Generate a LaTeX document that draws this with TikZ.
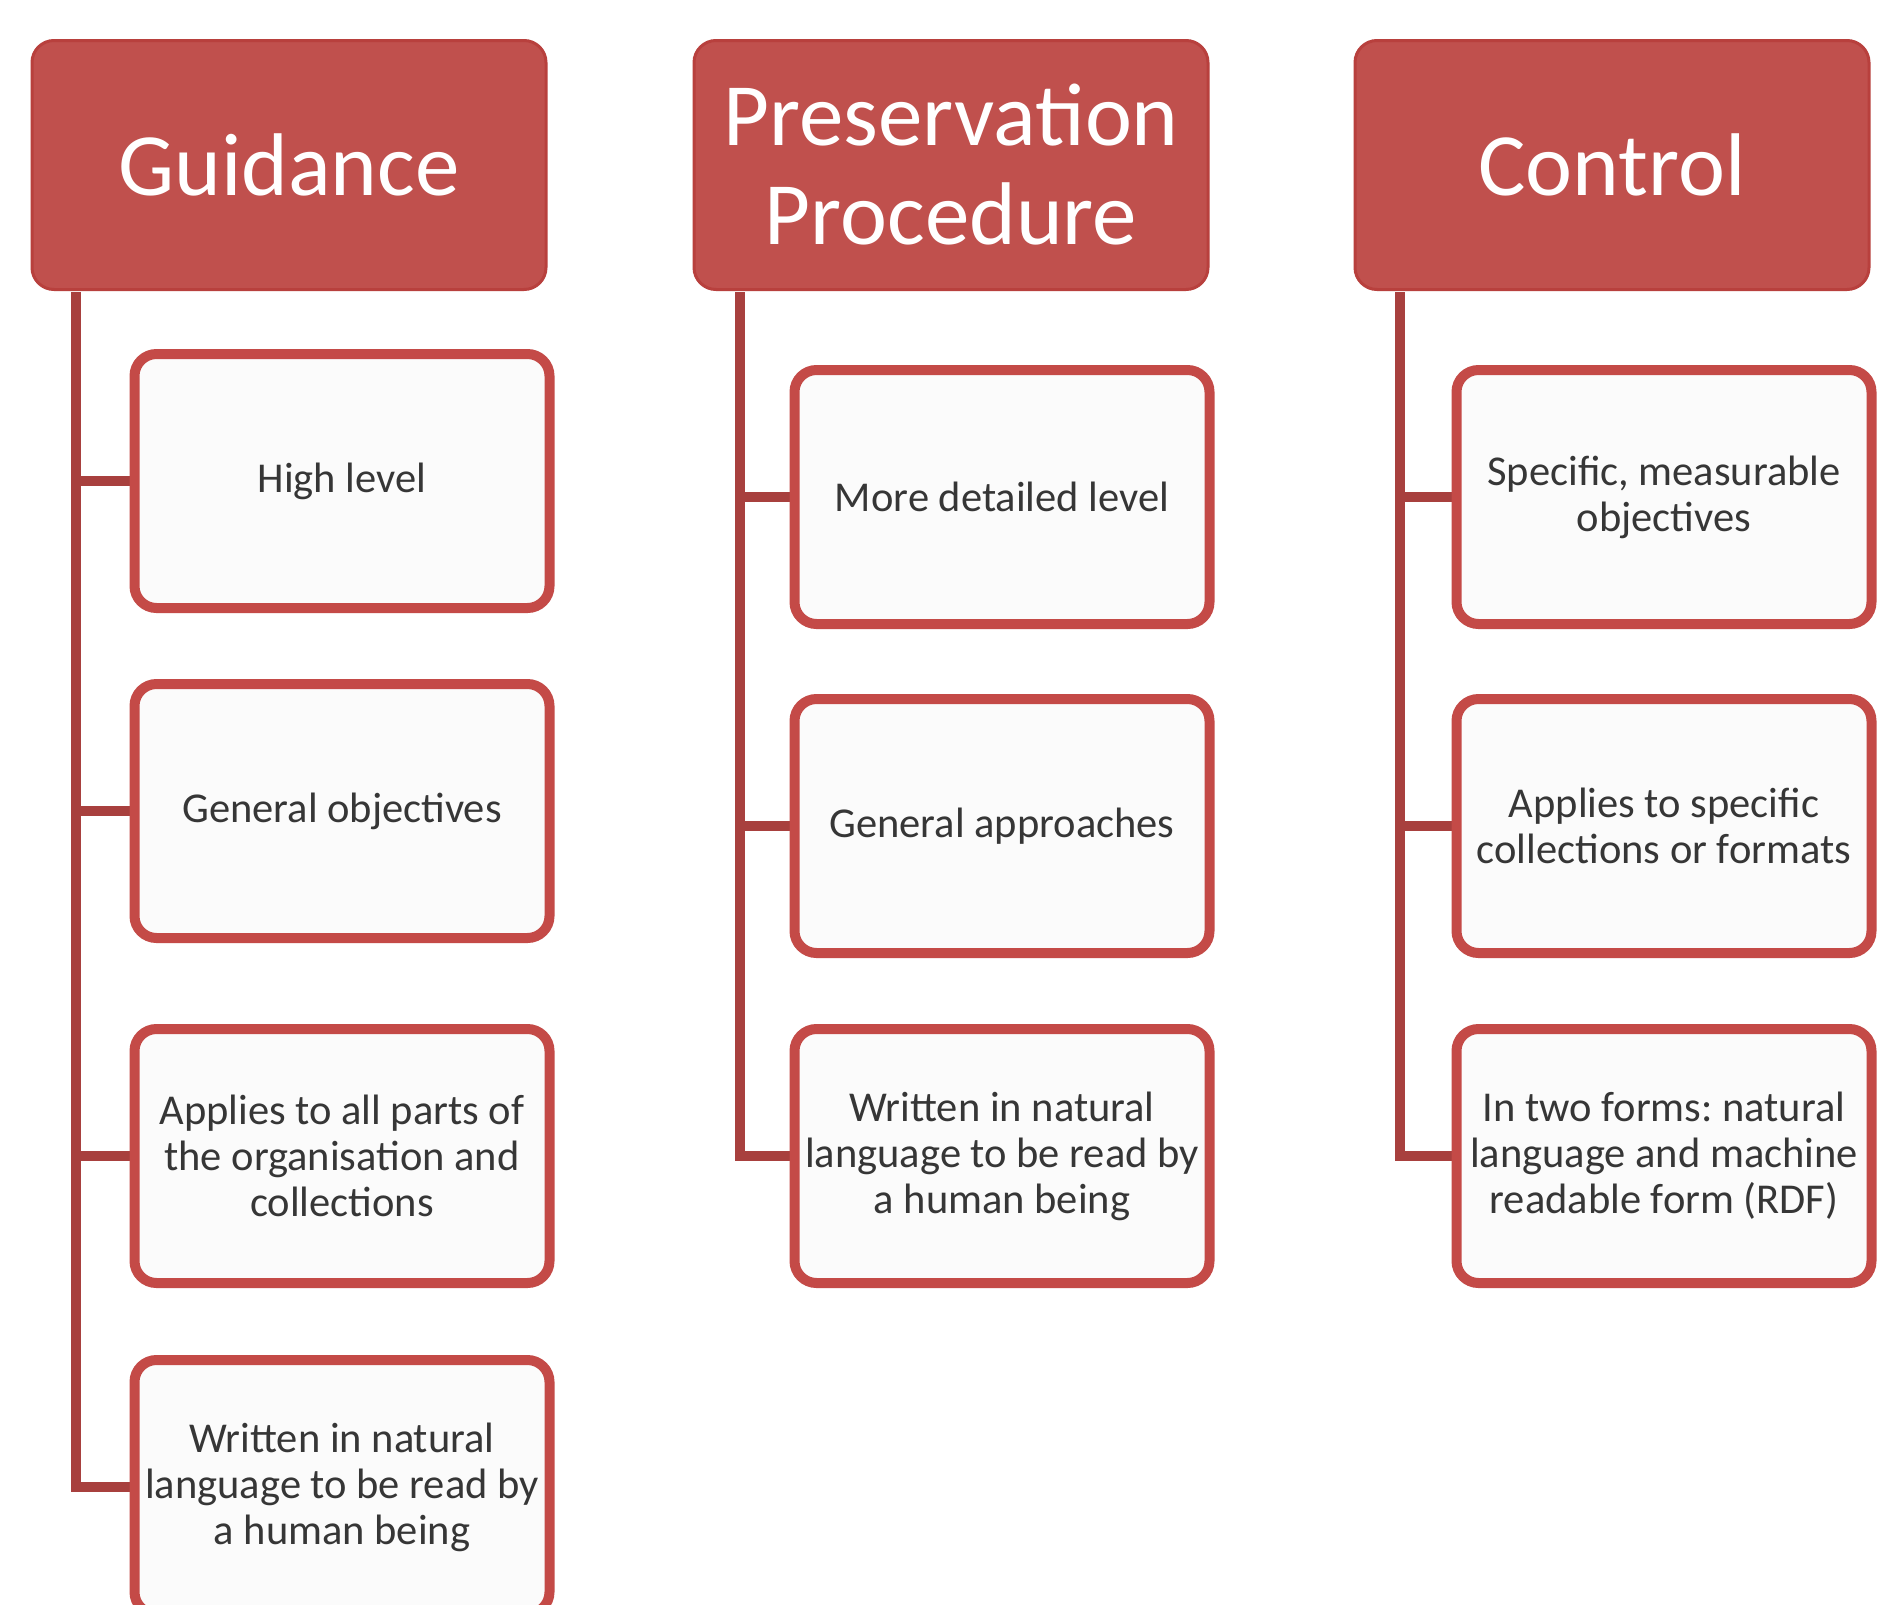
\documentclass[tikz,border=0pt]{standalone}
\usepackage{fontspec}
\setmainfont{Carlito}
\usetikzlibrary{backgrounds}
\frenchspacing
\definecolor{hdrfill}{HTML}{C0504D}
\definecolor{hdrdraw}{HTML}{B8403D}
\definecolor{boxdraw}{HTML}{C44A47}
\definecolor{boxfill}{HTML}{FBFBFB}
\definecolor{conncol}{HTML}{A8403E}
\definecolor{txt}{HTML}{363636}
\begin{document}
\begin{tikzpicture}[x=1pt,y=-1pt,
  hdr/.style={draw=hdrdraw, line width=3pt, fill=hdrfill, rounded corners=22pt,
    minimum width=514pt, minimum height=249pt, text=white,
    font=\fontsize{89}{99}\selectfont, align=center, inner sep=0pt, outer sep=0pt},
  item/.style={draw=boxdraw, line width=10pt, fill=boxfill, rounded corners=22pt,
    minimum width=415pt, minimum height=254pt, text=txt,
    font=\fontsize{42.5}{46}\selectfont\frenchspacing, align=center, inner sep=0pt, outer sep=0pt},
  conn/.style={draw=conncol, line width=10pt}]
\useasboundingbox (0,0) rectangle (1901,1604);
\clip (0,0) rectangle (1901,1604);

% headers
\node[hdr] (g) at (289,165) {Guidance};
\node[hdr] (p) at (951,165) {Preservation\\Procedure};
\node[hdr] (c) at (1612,165) {Control};

% start points of the vertical connector lines
\coordinate (gl) at (76,292);
\coordinate (pl) at (740,292);
\coordinate (cl) at (1400,292);

% child boxes
\node[item] (g1) at (342,481) {High level};
\node[item] (g2) at (342,811) {General objectives};
\node[item] (g3) at (342,1156) {Applies to all parts of\\the organisation and\\collections};
\node[item] (g4) at (342,1487) {Written in natural\\language to be read by\\a human being};

\node[item] (p1) at (1002,497) {More detailed level};
\node[item] (p2) at (1002,826) {General approaches};
\node[item] (p3) at (1002,1156) {Written in natural\\language to be read by\\a human being};

\node[item] (c1) at (1664,497) {Specific, measurable\\objectives};
\node[item] (c2) at (1664,826) {Applies to specific\\collections or formats};
\node[item] (c3) at (1664,1156) {In two forms: natural\\language and machine\\readable form (RDF)};

% connectors and page background, behind the boxes
\begin{pgfonlayer}{background}
\fill[white] (0,0) rectangle (1901,1604);
\foreach \a/\b in {gl/g1,gl/g2,gl/g3,gl/g4,pl/p1,pl/p2,pl/p3,cl/c1,cl/c2,cl/c3}
  \draw[conn] (\a) |- (\b.west);
\end{pgfonlayer}
\end{tikzpicture}
\end{document}
